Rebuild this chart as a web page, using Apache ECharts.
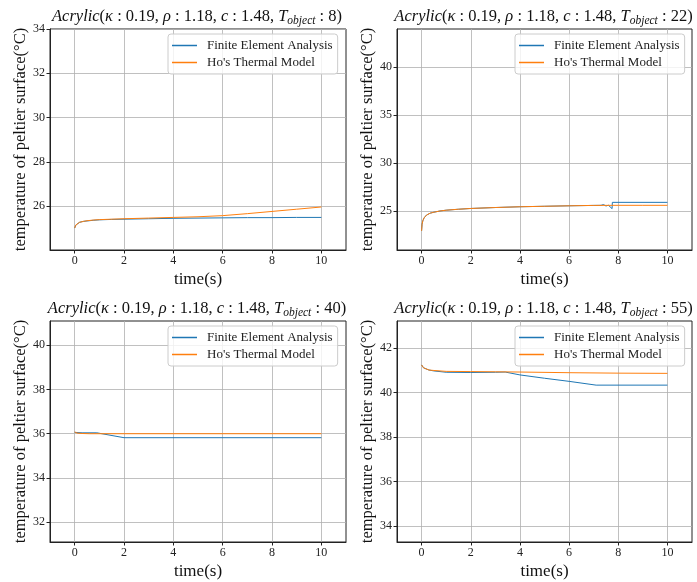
<!DOCTYPE html>
<html><head><meta charset="utf-8">
<script src="https://cdn.jsdelivr.net/npm/echarts@6.0.0/dist/echarts.min.js"></script>
<style>html,body{margin:0;padding:0;background:#fff}#c{width:697px;height:582px}</style>
</head><body><div id="c"></div>
<script>
// ---------- data ----------
const seriesNames = ['Finite Element Analysis', "Ho's Thermal Model"];
const tObjects = [8, 22, 40, 55];
const xTickValues = [0, 2, 4, 6, 8, 10];
const xRange = [-1, 11];

// panel 1 (T_object = 8)
const fea1T = [0, 0.02, 0.05, 0.1, 0.2, 0.35, 0.5, 0.75, 1, 1.5, 2, 3, 4, 5, 6, 7, 8, 9, 10];
const fea1Y = [25.02, 25.1, 25.16, 25.22, 25.28, 25.32, 25.34, 25.37, 25.39, 25.41, 25.42, 25.44, 25.46, 25.47, 25.48, 25.49, 25.49, 25.5, 25.5];
const ho1T = [0, 0.02, 0.05, 0.1, 0.2, 0.35, 0.5, 0.75, 1, 1.5, 2, 3, 4, 5, 6, 7, 8, 9, 10];
const ho1Y = [25.02, 25.1, 25.16, 25.22, 25.28, 25.32, 25.35, 25.38, 25.4, 25.42, 25.44, 25.47, 25.5, 25.53, 25.58, 25.67, 25.77, 25.87, 25.97];
const yTicks1 = [26, 28, 30, 32, 34];
const yRange1 = [24.03, 34];

// panel 2 (T_object = 22)
const fea2T = [0, 0.02, 0.05, 0.1, 0.2, 0.35, 0.5, 0.75, 1, 1.5, 2, 3, 4, 5, 6, 7, 7.3, 7.4, 7.5, 7.6, 7.75, 7.76, 10];
const fea2Y = [22.9, 23.6, 23.95, 24.25, 24.55, 24.75, 24.85, 24.98, 25.06, 25.16, 25.24, 25.34, 25.42, 25.47, 25.52, 25.56, 25.57, 25.65, 25.5, 25.58, 25.22, 25.88, 25.88];
const ho2T = [0, 0.02, 0.05, 0.1, 0.2, 0.35, 0.5, 0.75, 1, 1.5, 2, 3, 4, 5, 6, 7, 8, 9, 10];
const ho2Y = [22.9, 23.6, 23.95, 24.25, 24.55, 24.75, 24.85, 24.98, 25.06, 25.16, 25.24, 25.34, 25.42, 25.47, 25.52, 25.56, 25.57, 25.57, 25.57];
const yTicks2 = [25, 30, 35, 40];
const yRange2 = [20.9, 44];

// panel 3 (T_object = 40)
const fea3T = [0, 0.3, 0.9, 2, 10];
const fea3Y = [36.06, 36.04, 36.04, 35.82, 35.82];
const ho3T = [0, 0.05, 0.1, 0.3, 0.6, 10];
const ho3Y = [36.08, 36.05, 36.03, 36.01, 36.0, 36.0];
const yTicks3 = [32, 34, 36, 38, 40];
const yRange3 = [31.1, 41.1];

// panel 4 (T_object = 55)
const fea4T = [0, 0.03, 0.08, 0.15, 0.3, 0.5, 1, 2, 3, 3.4, 4, 5, 6, 7.1, 10];
const fea4Y = [41.25, 41.18, 41.12, 41.07, 41.02, 40.98, 40.92, 40.91, 40.92, 40.93, 40.8, 40.65, 40.51, 40.34, 40.34];
const ho4T = [0, 0.03, 0.08, 0.15, 0.3, 0.5, 1, 2, 3, 4, 6, 8, 10];
const ho4Y = [41.25, 41.18, 41.12, 41.07, 41.02, 41.0, 40.96, 40.95, 40.94, 40.93, 40.9, 40.88, 40.87];
const yTicks4 = [34, 36, 38, 40, 42];
const yRange4 = [33.27, 43.23];

// ---------- build ----------
const panels = [
  {fT: fea1T, fY: fea1Y, hT: ho1T, hY: ho1Y, ticks: yTicks1, range: yRange1},
  {fT: fea2T, fY: fea2Y, hT: ho2T, hY: ho2Y, ticks: yTicks2, range: yRange2},
  {fT: fea3T, fY: fea3Y, hT: ho3T, hY: ho3Y, ticks: yTicks3, range: yRange3},
  {fT: fea4T, fY: fea4Y, hT: ho4T, hY: ho4Y, ticks: yTicks4, range: yRange4}
];
const gridBoxes = [
  {left: 50, top: 29, width: 296, height: 221},
  {left: 397, top: 29, width: 295, height: 221},
  {left: 50, top: 321, width: 296, height: 221},
  {left: 397, top: 321, width: 295, height: 221}
];
const zip = (a, b) => a.map((v, i) => [v, b[i]]);
const FONT = 'Liberation Serif';
const colors = ['#1f77b4', '#ff7f0e'];

const option = {
  animation: false,
  backgroundColor: '#fff',
  grid: [], xAxis: [], yAxis: [], series: [], legend: [], title: []
};

panels.forEach((p, i) => {
  const g = gridBoxes[i];
  option.grid.push(Object.assign({show: true, borderColor: '#222', borderWidth: 1, backgroundColor: 'transparent', outerBoundsMode: 'none'}, g));
  option.xAxis.push({
    type: 'value', gridIndex: i, min: xRange[0], max: xRange[1],
    name: 'time(s)', nameLocation: 'middle', nameGap: 21,
    nameTextStyle: {fontFamily: FONT, fontSize: 17, color: '#111'},
    axisLine: {show: true, onZero: false, lineStyle: {color: '#222', width: 1}},
    axisTick: {show: true, length: 3.5, customValues: xTickValues, lineStyle: {color: '#222'}},
    axisLabel: {customValues: xTickValues, fontFamily: FONT, fontSize: 12, color: '#222', margin: 5},
    splitLine: {show: true, lineStyle: {color: '#b0b0b0', width: 0.8}}
  });
  option.yAxis.push({
    type: 'value', gridIndex: i, min: p.range[0], max: p.range[1],
    name: 'temperature of peltier surface(°C)', nameLocation: 'middle', nameGap: 17, nameRotate: 90,
    nameTextStyle: {fontFamily: FONT, fontSize: 16.5, color: '#111'},
    axisLine: {show: true, onZero: false, lineStyle: {color: '#222', width: 1}},
    axisTick: {show: true, length: 3.5, customValues: p.ticks, lineStyle: {color: '#222'}},
    axisLabel: {customValues: p.ticks, fontFamily: FONT, fontSize: 12, color: '#222', margin: 5},
    splitLine: {show: true, lineStyle: {color: '#b0b0b0', width: 0.8}}
  });
  option.series.push({
    name: seriesNames[0], type: 'line', xAxisIndex: i, yAxisIndex: i,
    data: zip(p.fT, p.fY), showSymbol: false, symbol: 'none',
    lineStyle: {color: colors[0], width: 1}, itemStyle: {color: colors[0]}, z: 3
  });
  option.series.push({
    name: seriesNames[1], type: 'line', xAxisIndex: i, yAxisIndex: i,
    data: zip(p.hT, p.hY), showSymbol: false, symbol: 'none',
    lineStyle: {color: colors[1], width: 1}, itemStyle: {color: colors[1]}, z: 4
  });
  option.legend.push({
    data: seriesNames, orient: 'vertical',
    left: g.left + 118, top: g.top + 5,
    icon: 'rect', itemWidth: 25, itemHeight: 1.5, itemGap: 4,
    padding: [5, 5, 5, 4],
    backgroundColor: 'rgba(255,255,255,0.8)', borderColor: '#ccc', borderWidth: 1, borderRadius: 3,
    textStyle: {fontFamily: FONT, fontSize: 13, color: '#222', padding: [0, 0, 0, 5]},
    selectedMode: false
  });
  const rm = {fontFamily: FONT, fontSize: 16.5, fontWeight: 'normal', color: '#111'};
  const it = {fontFamily: FONT, fontSize: 16.5, fontWeight: 'normal', fontStyle: 'italic', color: '#111'};
  const sub = {fontFamily: FONT, fontSize: 11.5, fontWeight: 'normal', fontStyle: 'italic', color: '#111', verticalAlign: 'bottom', padding: [8, 0, 0, 0]};
  option.title.push({
    text: '{it|Acrylic}{rm|(}{it|κ}{rm| : 0.19, }{it|ρ}{rm| : 1.18, }{it|c}{rm| : 1.48, }{it|T}{sub|object}{rm| : ' + tObjects[i] + ')}',
    left: g.left + g.width / 2 - 6, top: g.top - 27, textAlign: 'center',
    textStyle: {fontWeight: 'normal', rich: {rm: rm, it: it, sub: sub}}
  });
});

const chart = echarts.init(document.getElementById('c'), null, {renderer: 'canvas'});
chart.setOption(option);
</script>
</body></html>
